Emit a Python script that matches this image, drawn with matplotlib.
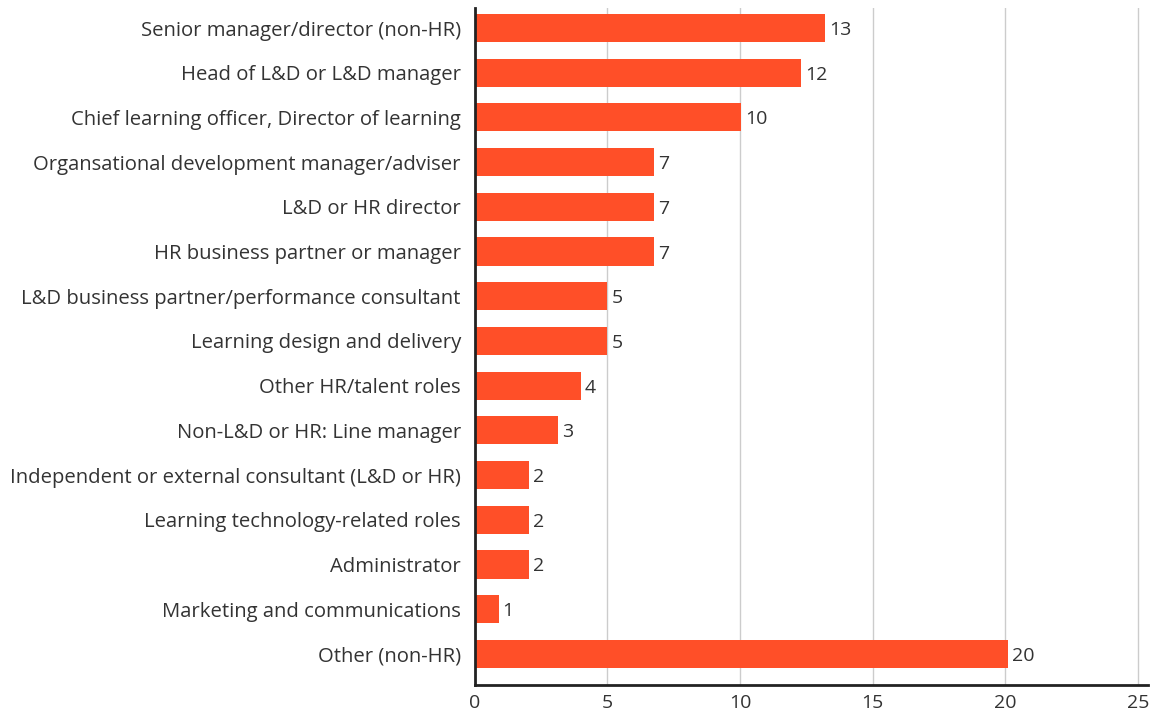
import matplotlib
matplotlib.use("Agg")
import matplotlib.pyplot as plt

plt.rcParams['font.family'] = ['Open Sans', 'DejaVu Sans']

roles = [
    "Senior manager/director (non-HR)",
    "Head of L&D or L&D manager",
    "Chief learning officer, Director of learning",
    "Organsational development manager/adviser",
    "L&D or HR director",
    "HR business partner or manager",
    "L&D business partner/performance consultant",
    "Learning design and delivery",
    "Other HR/talent roles",
    "Non-L&D or HR: Line manager",
    "Independent or external consultant (L&D or HR)",
    "Learning technology-related roles",
    "Administrator",
    "Marketing and communications",
    "Other (non-HR)",
]
values = [13.2, 12.3, 10.05, 6.75, 6.75, 6.75, 5.0, 5.0, 4.0, 3.15, 2.05, 2.05, 2.05, 0.9, 20.1]
labels = ["13", "12", "10", "7", "7", "7", "5", "5", "4", "3", "2", "2", "2", "1", "20"]
ticks = [0, 5, 10, 15, 20, 25]

BAR = "#FF4F28"
TXT = "#333333"

fig = plt.figure(figsize=(11.55, 7.17), dpi=100)
ax = fig.add_axes([0.411, 0.045, 0.583, 0.944])

ypos = list(range(len(roles)))
ax.barh(ypos, values, height=0.63, color=BAR, zorder=3)
for y, v, l in zip(ypos, values, labels):
    ax.text(v + 0.15, y, l, va='center_baseline', ha='left', fontsize=14, color=TXT)

ax.set_yticks(ypos)
ax.set_yticklabels(roles, fontsize=14.6, color=TXT, va='center_baseline')
ax.set_ylim(len(roles) - 1 + 0.69, -0.45)
ax.set_xlim(0, 25.38)
ax.set_xticks(ticks)
ax.set_xticklabels([str(t) for t in ticks], fontsize=14, color=TXT)

ax.grid(axis='x', color='#cccccc', linewidth=1, zorder=0)
ax.tick_params(axis='both', length=0)
ax.tick_params(axis='y', pad=10)
ax.tick_params(axis='x', pad=7)
for s in ['top', 'right']:
    ax.spines[s].set_visible(False)
for s in ['left', 'bottom']:
    ax.spines[s].set_color('#222222')
    ax.spines[s].set_linewidth(2)
    ax.spines[s].set_zorder(4)

fig.savefig("out.png", dpi=100)
